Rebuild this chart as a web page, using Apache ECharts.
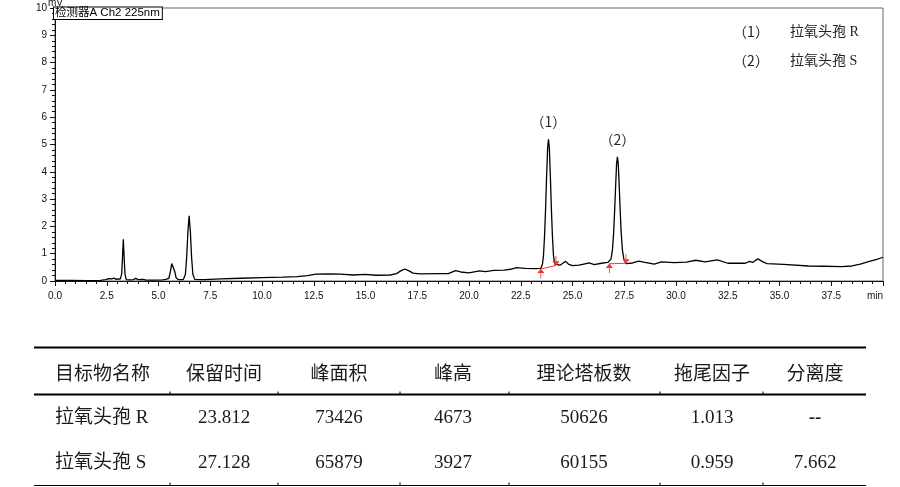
<!DOCTYPE html>
<html>
<head>
<meta charset="utf-8">
<script src="https://cdn.jsdelivr.net/npm/echarts@6/dist/echarts.min.js"></script>
<style>
html,body{margin:0;padding:0;background:#fff;}
#chart{width:900px;height:487px;}
</style>
</head>
<body>
<div id="chart"></div>
<script>
// ---- chromatogram trace (retention time in min, signal in mV) ----
const times = [
  0.0, 0.8, 1.6, 2.2, 2.45, 2.6, 2.75, 2.85, 2.95, 3.05, 3.15,
  3.22, 3.26, 3.30, 3.34, 3.38, 3.44,
  3.6, 3.8, 3.9, 4.0, 4.25, 4.4, 4.8, 5.2, 5.35,
  5.50, 5.58, 5.64, 5.68, 5.72, 5.78, 5.85, 5.95,
  6.2, 6.30, 6.36, 6.42, 6.48, 6.54, 6.60, 6.66, 6.75,
  7.2, 8.0, 9.0, 10.0, 11.0, 11.7, 12.2, 12.6, 13.2, 13.8, 14.4, 15.0, 15.5, 16.2,
  16.5, 16.7, 16.9, 17.1, 17.3, 17.6, 18.5, 19.0, 19.35, 19.6, 20.0, 20.5, 20.8,
  21.2, 21.7, 22.0, 22.3, 22.7, 23.2,
  23.47, 23.55, 23.60, 23.65, 23.70, 23.75, 23.80, 23.84, 23.88, 23.93, 23.98, 24.03, 24.08, 24.14, 24.22,
  24.4, 24.55, 24.67, 24.8, 25.0, 25.3, 25.55, 25.8, 26.05, 26.4, 26.7,
  26.78, 26.86, 26.93, 26.99, 27.04, 27.09, 27.13, 27.17, 27.21, 27.25, 27.30, 27.35, 27.41, 27.48, 27.58,
  27.9, 28.2, 28.5, 28.95, 29.3, 29.9, 30.5, 30.96, 31.4, 32.0, 32.5, 33.0, 33.35, 33.55, 33.7,
  33.95, 34.2, 34.4, 35.2, 36.4, 37.2, 38.0, 38.5, 38.9, 39.3, 39.7, 40.0
];
const signal = [
  0.02, 0.02, 0.01, 0.02, 0.05, 0.09, 0.08, 0.11, 0.06, 0.08, 0.07,
  0.25, 0.85, 1.53, 0.85, 0.25, 0.05,
  0.04, 0.05, 0.10, 0.05, 0.06, 0.03, 0.03, 0.04, 0.06,
  0.10, 0.36, 0.64, 0.68, 0.63, 0.36, 0.12, 0.05,
  0.05, 0.25, 0.85, 1.80, 2.39, 1.80, 0.85, 0.25, 0.06,
  0.05, 0.08, 0.10, 0.12, 0.14, 0.16, 0.20, 0.25, 0.26, 0.25, 0.22, 0.24, 0.21, 0.22,
  0.27, 0.37, 0.44, 0.37, 0.29, 0.26, 0.27, 0.27, 0.38, 0.33, 0.30, 0.37, 0.34,
  0.39, 0.40, 0.43, 0.49, 0.46, 0.45,
  0.46, 0.62, 0.95, 1.65, 2.65, 3.85, 4.90, 5.19, 4.90, 3.85, 2.65, 1.65, 0.95, 0.62, 0.56,
  0.58, 0.66, 0.72, 0.62, 0.56, 0.58, 0.62, 0.66, 0.60, 0.65, 0.68,
  0.66, 0.80, 1.15, 1.80, 2.65, 3.60, 4.30, 4.55, 4.30, 3.60, 2.65, 1.80, 1.15, 0.80, 0.64,
  0.66, 0.73, 0.68, 0.62, 0.70, 0.67, 0.69, 0.76, 0.70, 0.77, 0.65, 0.65, 0.65, 0.72, 0.68,
  0.81, 0.70, 0.64, 0.61, 0.55, 0.54, 0.53, 0.55, 0.62, 0.71, 0.79, 0.87
];

// ---- peak annotations ----
const peakLabels = ['（1）', '（2）'];
const peakApexTime = [23.84, 27.17];
const peakApexHeight = [5.19, 4.55];
const compoundNames = ['拉氧头孢 R', '拉氧头孢 S'];

// ---- integration baselines (red) ----
const baselineR = [[23.47, 0.44], [24.20, 0.57]];
const baselineS = [[26.78, 0.63], [27.58, 0.65]];

// ---- axis ----
const xTickStep = 2.5;
const yTickStep = 1;
const detectorLabel = '检测器A Ch2 225nm';
const yUnit = 'mV';
const xUnit = 'min';

// ---- results table ----
const tableHeaders = ['目标物名称', '保留时间', '峰面积', '峰高', '理论塔板数', '拖尾因子', '分离度'];
const retentionTime = ['23.812', '27.128'];
const peakArea = ['73426', '65879'];
const peakHeight = ['4673', '3927'];
const plateNumber = ['50626', '60155'];
const tailingFactor = ['1.013', '0.959'];
const resolution = ['--', '7.662'];

const trace = times.map((t, i) => [t, signal[i]]);
const arrowPath = 'path://M0,4 L4,0 L8,4 M4,0 L4,10';
function baselineData(seg) {
  return [
    { value: seg[0], symbolRotate: 0, symbolOffset: [0, 5] },
    { value: seg[1], symbolRotate: 180, symbolOffset: [0, -5] }
  ];
}

const chart = echarts.init(document.getElementById('chart'), null, { renderer: 'canvas' });

// table graphics
const colCenters = [103, 224, 339, 453, 584, 712, 815];
const tableLeft = 34, tableRight = 866;
const yTop = 347.5, yHead = 373, yHeadLine = 394.5, yRow1 = 418, yRow2 = 463, yBottom = 485.5;
const sepX = [170, 278, 400, 509, 660, 763];
const headFont = '19px "Noto Sans CJK SC", sans-serif';
const bodyFont = '19px "Liberation Serif", "Noto Sans CJK SC", serif';
const g = [];
g.push({ type: 'line', shape: { x1: tableLeft, y1: yTop, x2: tableRight, y2: yTop }, style: { stroke: '#000', lineWidth: 1.8 } });
g.push({ type: 'line', shape: { x1: tableLeft, y1: yHeadLine, x2: tableRight, y2: yHeadLine }, style: { stroke: '#000', lineWidth: 1.8 } });
g.push({ type: 'line', shape: { x1: tableLeft, y1: yBottom, x2: tableRight, y2: yBottom }, style: { stroke: '#000', lineWidth: 1 } });
sepX.forEach(x => {
  g.push({ type: 'line', shape: { x1: x, y1: yHeadLine - 3, x2: x, y2: yHeadLine }, style: { stroke: '#000', lineWidth: 1 } });
  g.push({ type: 'line', shape: { x1: x, y1: yBottom - 3, x2: x, y2: yBottom }, style: { stroke: '#000', lineWidth: 1 } });
});
tableHeaders.forEach((h, i) => {
  const left = i === 0;
  g.push({ type: 'text', x: left ? 55 : colCenters[i], y: yHead,
    style: { text: h, font: headFont, fill: '#1a1a1a', align: left ? 'left' : 'center', verticalAlign: 'middle' } });
});
const rowsY = [yRow1, yRow2];
[0, 1].forEach(r => {
  const vals = [compoundNames[r], retentionTime[r], peakArea[r], peakHeight[r], plateNumber[r], tailingFactor[r], resolution[r]];
  vals.forEach((v, i) => {
    const left = i === 0;
    g.push({ type: 'text', x: left ? 55 : colCenters[i], y: rowsY[r],
      style: { text: v, font: (v === '--' ? 'bold ' : '') + bodyFont, fill: '#1a1a1a', align: left ? 'left' : 'center', verticalAlign: 'middle' } });
  });
});
// legend of compounds (top right)
[0, 1].forEach(r => {
  const y = r === 0 ? 32 : 61;
  g.push({ type: 'text', x: 751, y: y, style: { text: peakLabels[r], font: '14px "Noto Sans CJK SC", serif', fill: '#222', align: 'center', verticalAlign: 'middle' } });
  g.push({ type: 'text', x: 790, y: y, style: { text: compoundNames[r], font: '14px "Liberation Serif", "Noto Sans CJK SC", serif', fill: '#222', align: 'left', verticalAlign: 'middle' } });
});
// detector label box
g.push({ type: 'text', x: 54, y: 7.5, z: 100,
  style: { text: detectorLabel, font: '11.5px "Liberation Sans", "Noto Sans CJK SC", sans-serif', fill: '#000',
    align: 'left', verticalAlign: 'top', backgroundColor: '#fff', borderColor: '#000', borderWidth: 1, padding: [0, 2, 0, 1] } });
// unit mV
g.push({ type: 'text', x: 48, y: -2, style: { text: yUnit, font: '10px "Liberation Sans", sans-serif', fill: '#111', align: 'left', verticalAlign: 'top' } });

const option = {
  animation: false,
  backgroundColor: '#fff',
  grid: { left: 55, right: 17, top: 8, bottom: 206, show: true, borderColor: '#666', borderWidth: 1, backgroundColor: 'transparent' },
  xAxis: {
    type: 'value', min: 0, max: 40, interval: xTickStep,
    axisLine: { show: true, onZero: false, lineStyle: { color: '#111', width: 1 } },
    axisTick: { show: true, inside: false, length: 5, lineStyle: { color: '#111' } },
    minorTick: { show: true, splitNumber: 5, length: 3, lineStyle: { color: '#111' } },
    splitLine: { show: false },
    axisLabel: { margin: 10, fontSize: 10, fontFamily: '"Liberation Sans", Arial, sans-serif', color: '#111',
      alignMaxLabel: 'right',
      formatter: v => (v === 40 ? xUnit : v.toFixed(1)) }
  },
  yAxis: {
    type: 'value', min: 0, max: 10, interval: yTickStep,
    axisLine: { show: true, lineStyle: { color: '#111', width: 1 } },
    axisTick: { show: true, length: 5, lineStyle: { color: '#111' } },
    minorTick: { show: true, splitNumber: 5, length: 3, lineStyle: { color: '#111' } },
    splitLine: { show: false },
    axisLabel: { margin: 8, fontSize: 10, fontFamily: '"Liberation Sans", Arial, sans-serif', color: '#111' }
  },
  series: [
    {
      type: 'line', data: trace, showSymbol: false, symbol: 'none',
      lineStyle: { color: '#000', width: 1.3 }, z: 3,
      markPoint: {
        symbol: 'circle', symbolSize: 1, itemStyle: { color: 'transparent' },
        label: { show: true, position: 'top', distance: 10, formatter: '{b}',
          fontSize: 14, fontFamily: '"Noto Sans CJK SC", serif', color: '#2a2a2a' },
        data: peakLabels.map((l, i) => ({ name: l, coord: [peakApexTime[i], peakApexHeight[i]] }))
      }
    },
    {
      type: 'line', data: baselineData(baselineR), showSymbol: true, symbol: arrowPath, symbolSize: [6, 9],
      lineStyle: { color: '#ff3030', width: 1 }, itemStyle: { color: '#ff3030', borderColor: '#ff3030', borderWidth: 1 }, z: 4
    },
    {
      type: 'line', data: baselineData(baselineS), showSymbol: true, symbol: arrowPath, symbolSize: [6, 9],
      lineStyle: { color: '#ff3030', width: 1 }, itemStyle: { color: '#ff3030', borderColor: '#ff3030', borderWidth: 1 }, z: 4
    }
  ],
  graphic: g
};
chart.setOption(option);
</script>
</body>
</html>
